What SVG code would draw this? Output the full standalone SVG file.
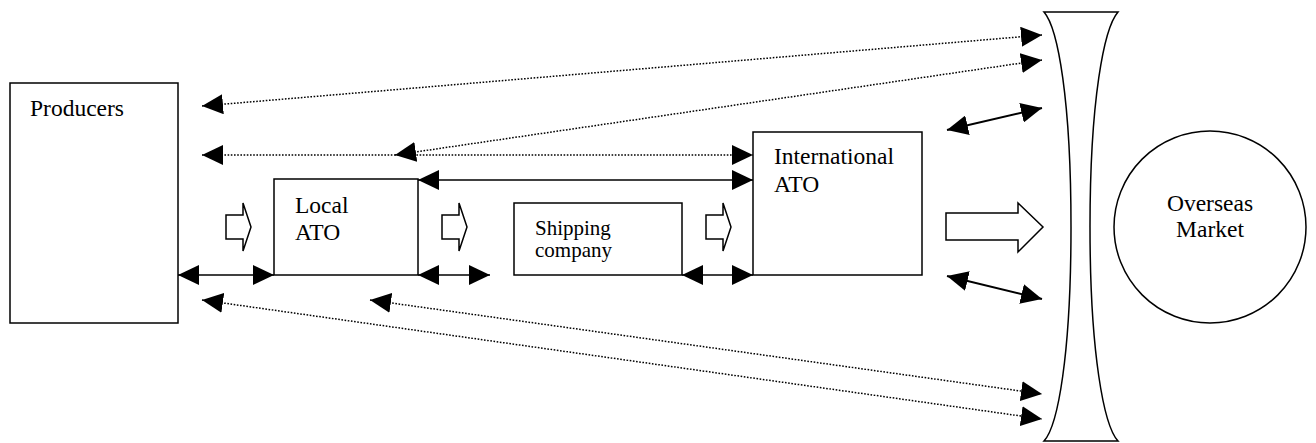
<svg xmlns="http://www.w3.org/2000/svg" width="1316" height="443" viewBox="0 0 1316 443">
<style>
.box{fill:#fff;stroke:#000;stroke-width:1.5}
.lbl{font-family:"Liberation Serif","Times New Roman",serif;font-size:23.5px;fill:#000}
.sm{font-size:21px}
.sol{stroke:#000;stroke-width:1.3;fill:none;marker-start:url(#ah);marker-end:url(#ah)}
.thk{stroke-width:2}
.dot{stroke:#000;stroke-width:1.5;fill:none;stroke-dasharray:1.6 1.6;marker-start:url(#ah);marker-end:url(#ah)}
.blk{fill:#fff;stroke:#000;stroke-width:1.5;stroke-linejoin:miter}
</style>
<defs>
<marker id="ah" markerUnits="userSpaceOnUse" viewBox="0 0 21 20" markerWidth="21" markerHeight="20" refX="21" refY="10" orient="auto-start-reverse">
<path d="M0,0 L21,10 L0,20 z" fill="#000"/>
</marker>
</defs>
<rect width="1316" height="443" fill="#fff"/>
<g id="nodes">
<g id="producers">
<rect class="box" x="10" y="83" width="168" height="240"/>
<text class="lbl" x="30" y="116">Producers</text>
</g>
<g id="local-ato">
<rect class="box" x="274" y="179" width="144" height="96"/>
<text class="lbl" x="295" y="213">Local</text>
<text class="lbl" x="295" y="240">ATO</text>
</g>
<g id="shipping-company">
<rect class="box" x="514" y="203" width="168" height="72"/>
<text class="lbl sm" x="535" y="235">Shipping</text>
<text class="lbl sm" x="535" y="257">company</text>
</g>
<g id="international-ato">
<rect class="box" x="753" y="132" width="169" height="143"/>
<text class="lbl" x="774" y="164">International</text>
<text class="lbl" x="774" y="192">ATO</text>
</g>
<g id="funnel">
<path class="box" d="M1044,12 L1118,12 C1104,28 1090,100 1090,227 C1090,354 1104,426 1118,441 L1044,441 C1058,426 1071,354 1071,227 C1071,100 1058,28 1044,12 Z"/>
</g>
<g id="overseas-market">
<circle class="box" cx="1210" cy="227" r="96"/>
<text class="lbl" x="1210" y="211" text-anchor="middle">Overseas</text>
<text class="lbl" x="1210" y="237" text-anchor="middle">Market</text>
</g>
</g>
<g id="connectors">
<polygon class="blk" points="226,215 243,215 243,203 251,227 243,251 243,239 226,239"/>
<polygon class="blk" points="442,215 459,215 459,203 467,227 459,251 459,239 442,239"/>
<polygon class="blk" points="706,215 723,215 723,203 731,227 723,251 723,239 706,239"/>
<polygon class="blk" points="946,213 1018,213 1018,203 1043,227 1018,252 1018,240 946,240"/>
<line class="sol" x1="178" y1="275" x2="274" y2="275"/>
<line class="sol" x1="418" y1="275" x2="490" y2="275"/>
<line class="sol" x1="682" y1="275" x2="753" y2="275"/>
<line class="sol" x1="418" y1="180" x2="753" y2="180"/>
<line class="sol thk" x1="947" y1="130" x2="1042" y2="108"/>
<line class="sol thk" x1="947" y1="276" x2="1042" y2="299"/>
<line class="dot" x1="202" y1="106" x2="1042" y2="35"/>
<line class="dot" x1="395" y1="155" x2="1042" y2="60"/>
<line class="dot" x1="202" y1="155" x2="753" y2="155"/>
<line class="dot" x1="202" y1="300" x2="1042" y2="419"/>
<line class="dot" x1="370" y1="300" x2="1042" y2="394"/>
</g>
</svg>
